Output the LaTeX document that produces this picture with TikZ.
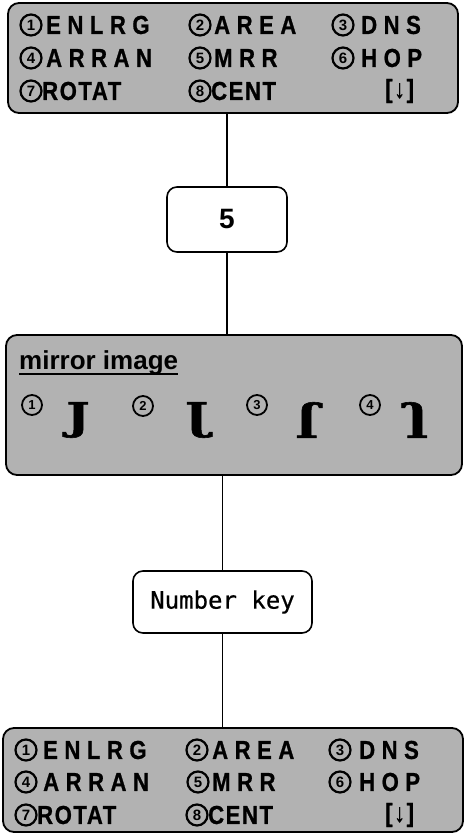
\documentclass[tikz,border=0pt]{standalone}
\usepackage{fontspec}
\usepackage{graphicx}
\setmainfont{Liberation Sans}
\newfontfamily\lcdfont[FakeStretch=0.85,LetterSpace=25,FakeBold=0.8]{Liberation Sans}
\newfontfamily\lcdtight[FakeStretch=0.85,LetterSpace=6,FakeBold=0.8]{Liberation Sans}
\newfontfamily\jfont[FakeBold=1.5,FakeStretch=1.3]{DejaVu Serif}
\newfontfamily\keyfont[FakeBold=0.6]{DejaVu Sans Mono}
\begin{document}
\begin{tikzpicture}[x=1pt,y=-1pt]
\tikzset{
  panel/.style={draw, line width=1.8pt, rounded corners=11pt, fill=black!30, inner sep=0pt},
  keybox/.style={draw, line width=1.6pt, rounded corners=10pt, fill=white, inner sep=0pt},
  conn/.style={line width=1.4pt},
  cnum/.style={circle, draw, line width=2.2pt, minimum size=21pt, inner sep=0pt,
    font=\bfseries\fontsize{15}{15}\selectfont},
  cnums/.style={cnum, line width=1.8pt, minimum size=20pt, font=\bfseries\fontsize{13}{13}\selectfont},
  lcd/.style={anchor=west, inner sep=0pt, font=\lcdfont\bfseries\fontsize{26}{26}\selectfont},
  lcdt/.style={anchor=west, inner sep=0pt, font=\lcdtight\bfseries\fontsize{26}{26}\selectfont},
  jglyph/.style={inner sep=0pt, font=\jfont\bfseries\fontsize{38}{38}\selectfont},
}
\useasboundingbox (0,0) rectangle (465,834);

% boxes
\node[panel, minimum width=450pt, minimum height=110pt] (top) at (233,58) {};
\node[keybox, minimum width=120pt, minimum height=65pt,
      font=\bfseries\fontsize{28}{28}\selectfont] (five) at (227,219.5) {5};
\node[panel, minimum width=456pt, minimum height=140pt] (mirror) at (234,405) {};
\node[keybox, minimum width=179pt, minimum height=62pt,
      font=\keyfont\fontsize{24}{24}\selectfont] (nk) at (222.5,602) {Number key};
\node[panel, minimum width=460pt, minimum height=104pt] (bottom) at (233,780) {};

% connectors
\draw[conn] (five.north) -- (five.north |- top.south);
\draw[conn] (five.south) -- (five.south |- mirror.north);
\draw[conn] (nk.north) -- (nk.north |- mirror.south);
\draw[conn] (nk.south) -- (nk.south |- bottom.north);

% top menu
\node[cnum] (t1) at (31,25) {1};
\node[lcd]  (t1w) at (46,25) {ENLRG};
\node[cnum] (t2) at (200,25) {2};
\node[lcd]  (t2w) at (214,25) {AREA};
\node[cnum] (t3) at (343,25) {3};
\node[lcd]  (t3w) at (361,25) {DNS};
\node[cnum] (t4) at (31,58) {4};
\node[lcd]  (t4w) at (46,58) {ARRAN};
\node[cnum] (t5) at (200,58) {5};
\node[lcd]  (t5w) at (214,58) {MRR};
\node[cnum] (t6) at (343,58) {6};
\node[lcd]  (t6w) at (361,58) {HOP};
\node[cnum] (t7) at (31,91) {7};
\node[lcdt] (t7w) at (42,91) {ROTAT};
\node[cnum] (t8) at (200,91) {8};
\node[lcdt] (t8w) at (211,91) {CENT};
\node[lcdt] (t9w) at (385,91) {[↓]};

% mirror image panel
\node[anchor=base west, inner sep=0pt, font=\bfseries\fontsize{26}{26}\selectfont]
   (mi) at (19,369) {mirror image};
\draw[line width=1.8pt] ([yshift=-5pt]mi.base west) -- ([yshift=-5pt]mi.base east);
\node[cnums] (m1) at (32,405) {1};
\node[jglyph] (j1) at (78,420) {J};
\node[cnums] (m2) at (143,406) {2};
\node[jglyph] (j2) at (197,420) {\reflectbox{J}};
\node[cnums] (m3) at (257,405) {3};
\node[jglyph] (j3) at (307,420) {\rotatebox[origin=c]{180}{J}};
\node[cnums] (m4) at (370,405) {4};
\node[jglyph] (j4) at (417,420) {\scalebox{1}[-1]{J}};

% bottom menu
\node[cnum] (b1) at (26,750) {1};
\node[lcd]  (b1w) at (43,750) {ENLRG};
\node[cnum] (b2) at (197,750) {2};
\node[lcd]  (b2w) at (212,750) {AREA};
\node[cnum] (b3) at (340,750) {3};
\node[lcd]  (b3w) at (359,750) {DNS};
\node[cnum] (b4) at (26,782) {4};
\node[lcd]  (b4w) at (43,782) {ARRAN};
\node[cnum] (b5) at (198,782) {5};
\node[lcd]  (b5w) at (212,782) {MRR};
\node[cnum] (b6) at (340,782) {6};
\node[lcd]  (b6w) at (359,782) {HOP};
\node[cnum] (b7) at (26,815) {7};
\node[lcdt] (b7w) at (37,815) {ROTAT};
\node[cnum] (b8) at (197,815) {8};
\node[lcdt] (b8w) at (208,815) {CENT};
\node[lcdt] (b9w) at (385,815) {[↓]};
\end{tikzpicture}
\end{document}
